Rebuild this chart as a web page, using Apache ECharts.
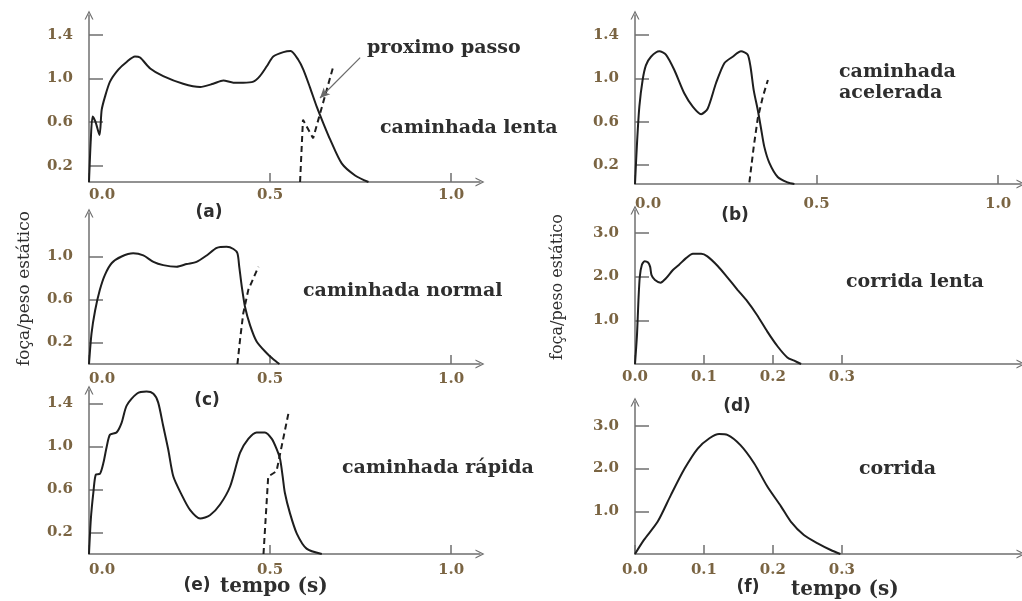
<!DOCTYPE html>
<html><head><meta charset="utf-8">
<script src="https://cdn.jsdelivr.net/npm/echarts@6/dist/echarts.min.js"></script>
<style>html,body{margin:0;padding:0;background:#fff}#c{width:1022px;height:601px}</style>
</head><body><div id="c"></div><script>
// ---- data (tempo em s, força/peso estático) ----
var slowWalk = [[0,0.05],[0.005,0.44],[0.010,0.65],[0.018,0.60],[0.029,0.48],[0.035,0.71],[0.044,0.83],[0.058,0.97],[0.081,1.08],[0.104,1.15],[0.127,1.20],[0.141,1.19],[0.169,1.09],[0.205,1.02],[0.26,0.95],[0.307,0.92],[0.343,0.95],[0.371,0.98],[0.399,0.96],[0.426,0.96],[0.454,0.97],[0.472,1.02],[0.491,1.11],[0.509,1.20],[0.537,1.24],[0.557,1.25],[0.578,1.17],[0.592,1.08],[0.61,0.92],[0.629,0.74],[0.647,0.59],[0.666,0.44],[0.698,0.22],[0.735,0.11],[0.772,0.05]];
var slowWalkNext = [[0.583,0.05],[0.591,0.62],[0.619,0.45],[0.674,1.10]];
var accelWalk = [[0,0.025],[0.006,0.43],[0.012,0.74],[0.021,0.985],[0.03,1.12],[0.044,1.20],[0.067,1.25],[0.085,1.22],[0.108,1.08],[0.136,0.86],[0.159,0.74],[0.182,0.67],[0.20,0.72],[0.223,0.955],[0.246,1.14],[0.269,1.20],[0.292,1.25],[0.31,1.22],[0.318,1.11],[0.327,0.89],[0.338,0.71],[0.347,0.54],[0.356,0.37],[0.37,0.22],[0.393,0.09],[0.42,0.04],[0.439,0.025]];
var accelWalkNext = [[0.315,0.04],[0.327,0.37],[0.338,0.63],[0.352,0.83],[0.366,0.985]];
var normalWalk = [[0,0],[0.007,0.285],[0.017,0.50],[0.030,0.69],[0.044,0.83],[0.063,0.94],[0.09,1.0],[0.122,1.03],[0.15,1.01],[0.178,0.95],[0.205,0.92],[0.242,0.905],[0.27,0.93],[0.297,0.95],[0.325,1.01],[0.353,1.08],[0.38,1.09],[0.399,1.07],[0.41,1.03],[0.415,0.905],[0.422,0.72],[0.431,0.53],[0.445,0.36],[0.463,0.21],[0.491,0.10],[0.509,0.045],[0.526,0]];
var normalWalkNext = [[0.41,0],[0.417,0.22],[0.426,0.47],[0.44,0.69],[0.468,0.905]];
var slowRun = [[0,0],[0.003,0.70],[0.005,1.46],[0.007,2.0],[0.01,2.27],[0.014,2.35],[0.019,2.32],[0.022,2.22],[0.024,2.03],[0.029,1.92],[0.037,1.86],[0.045,1.96],[0.055,2.15],[0.064,2.27],[0.074,2.42],[0.084,2.52],[0.096,2.52],[0.105,2.46],[0.12,2.24],[0.134,1.98],[0.149,1.69],[0.163,1.43],[0.177,1.12],[0.192,0.74],[0.207,0.40],[0.221,0.15],[0.231,0.075],[0.241,0]];
var fastWalk = [[0,0],[0.005,0.32],[0.012,0.57],[0.019,0.74],[0.030,0.745],[0.04,0.85],[0.049,1.0],[0.058,1.11],[0.076,1.13],[0.09,1.22],[0.104,1.38],[0.132,1.49],[0.159,1.51],[0.178,1.49],[0.191,1.41],[0.205,1.19],[0.219,0.97],[0.233,0.72],[0.256,0.55],[0.279,0.41],[0.307,0.33],[0.334,0.36],[0.362,0.46],[0.39,0.63],[0.417,0.94],[0.44,1.07],[0.463,1.13],[0.486,1.13],[0.505,1.07],[0.519,0.97],[0.528,0.88],[0.535,0.72],[0.541,0.57],[0.555,0.38],[0.574,0.19],[0.601,0.05],[0.643,0]];
var fastWalkNext = [[0.482,0],[0.495,0.72],[0.518,0.77],[0.551,1.31]];
var run = [[0,0],[0.013,0.33],[0.033,0.76],[0.052,1.38],[0.072,2.0],[0.091,2.47],[0.108,2.71],[0.122,2.81],[0.134,2.79],[0.153,2.55],[0.173,2.12],[0.192,1.58],[0.212,1.11],[0.226,0.76],[0.245,0.445],[0.265,0.25],[0.284,0.094],[0.298,0]];
var arrowFrom = [0.749,1.19], arrowTo = [0.638,0.82];

// ---- tick labels ----
var ticksWalkX = [0, 0.5, 1.0];
var ticksRunX = [0, 0.1, 0.2, 0.3];
var ticksWalkY = [0.2, 0.6, 1.0, 1.4];
var ticksNormalY = [0.2, 0.6, 1.0];
var ticksRunY = [1.0, 2.0, 3.0];
var panelLabels = ['(a)','(b)','(c)','(d)','(e)','(f)'];
var yName = 'foça/peso estático';
var xName = 'tempo (s)';

var AX = '#6f6f6f', LBL = '#7a6442', TXT = '#2e2e2e';
var chevron = 'path://M0,10 L5,0 L10,10 L8.6,10 L5,2.8 L1.4,10 Z';
var fmt = function (v) { return v.toFixed(1); };

function xAx(i, max, ticks, leftMin, margin) {
  return {gridIndex:i, type:'value', min:0, max:max, splitLine:{show:false},
    axisLine:{onZero:false, lineStyle:{color:AX, width:1.5}, symbol:['none', chevron], symbolSize:[9,9]},
    axisTick:{inside:true, length:9, customValues:ticks, lineStyle:{color:AX, width:1.5}},
    axisLabel:{customValues:ticks, formatter:fmt, margin:margin, color:LBL, fontFamily:'DejaVu Serif', fontWeight:'bold', fontSize:15,
      alignMinLabel: leftMin ? 'left' : 'center'}};
}
function yAx(i, min, max, ticks, name, gap, nsize) {
  var o = {gridIndex:i, type:'value', min:min, max:max, splitLine:{show:false},
    axisLine:{onZero:false, lineStyle:{color:AX, width:1.5}, symbol:['none', chevron], symbolSize:[9,9]},
    axisTick:{inside:true, length:14, customValues:ticks, lineStyle:{color:AX, width:1.5}},
    axisLabel:{customValues:ticks, formatter:fmt, margin:16, color:LBL, fontFamily:'DejaVu Serif', fontWeight:'bold', fontSize:15}};
  if (name) { o.name = name; o.nameLocation = 'middle'; o.nameGap = gap;
    o.nameTextStyle = {fontFamily:'DejaVu Serif', fontSize:nsize, color:TXT}; }
  return o;
}
function line(i, data, dashed) {
  return {type:'line', xAxisIndex:i, yAxisIndex:i, data:data, showSymbol:false, symbol:'none',
    smooth: dashed ? false : 0.25, silent:true,
    lineStyle:{color:'#1e1e1e', width:2, type: dashed ? [6,4] : 'solid'}};
}
function txt(x, y, s, font, align) {
  return {type:'text', x:x, y:y, style:{text:s, font:font, fill:TXT, textAlign:align||'left', textVerticalAlign:'middle', verticalAlign:'middle'}};
}
var F = 'bold 19px "DejaVu Serif"', P = 'bold 17px "DejaVu Sans"', T = 'bold 20px "DejaVu Serif"';

var series = [
  line(0, slowWalk), line(0, slowWalkNext, true),
  line(1, accelWalk), line(1, accelWalkNext, true),
  line(2, normalWalk), line(2, normalWalkNext, true),
  line(3, slowRun),
  line(4, fastWalk), line(4, fastWalkNext, true),
  line(5, run)
];
series[0].markLine = {silent:true, symbol:['none','arrow'], symbolSize:[7,10], label:{show:false},
  lineStyle:{color:'#6a6a6a', width:1.2, type:'solid'}, data:[[{coord:arrowFrom},{coord:arrowTo}]]};

var option = {
  animation:false, backgroundColor:'#fff',
  grid:[
    {left:89, top:15, width:391, height:167},
    {left:635, top:15, width:386, height:169},
    {left:89, top:213, width:391, height:151},
    {left:635, top:210, width:386, height:154},
    {left:89, top:390, width:391, height:164},
    {left:635, top:402, width:386, height:152}
  ],
  xAxis:[
    xAx(0, 1.08, ticksWalkX, true, 6),
    xAx(1, 1.063, ticksWalkX, true, 13),
    xAx(2, 1.08, ticksWalkX, true, 8),
    xAx(3, 0.56, ticksRunX, false, 6),
    xAx(4, 1.08, ticksWalkX, true, 9),
    xAx(5, 0.56, ticksRunX, false, 9)
  ],
  yAxis:[
    yAx(0, 0.05, 1.58, ticksWalkY),
    yAx(1, 0.025, 1.585, ticksWalkY),
    yAx(2, 0, 1.405, ticksNormalY, yName, 56, 17),
    yAx(3, 0, 3.52, ticksRunY, yName, 69, 16),
    yAx(4, 0, 1.525, ticksWalkY),
    yAx(5, 0, 3.56, ticksRunY)
  ],
  series:series,
  graphic:[
    txt(367, 48, 'proximo passo', F),
    txt(380, 128, 'caminhada lenta', F),
    txt(839, 72, 'caminhada', F),
    txt(839, 93, 'acelerada', F),
    txt(303, 291, 'caminhada normal', F),
    txt(846, 282, 'corrida lenta', F),
    txt(342, 468, 'caminhada rápida', F),
    txt(859, 469, 'corrida', F),
    txt(209, 213, panelLabels[0], P, 'center'),
    txt(735, 216, panelLabels[1], P, 'center'),
    txt(207, 401, panelLabels[2], P, 'center'),
    txt(737, 407, panelLabels[3], P, 'center'),
    txt(197, 586, panelLabels[4], P, 'center'),
    txt(748, 588, panelLabels[5], P, 'center'),
    txt(220, 587, xName, T),
    txt(791, 590, xName, T)
  ]
};
echarts.init(document.getElementById('c'), null, {renderer:'canvas'}).setOption(option);
</script></body></html>
